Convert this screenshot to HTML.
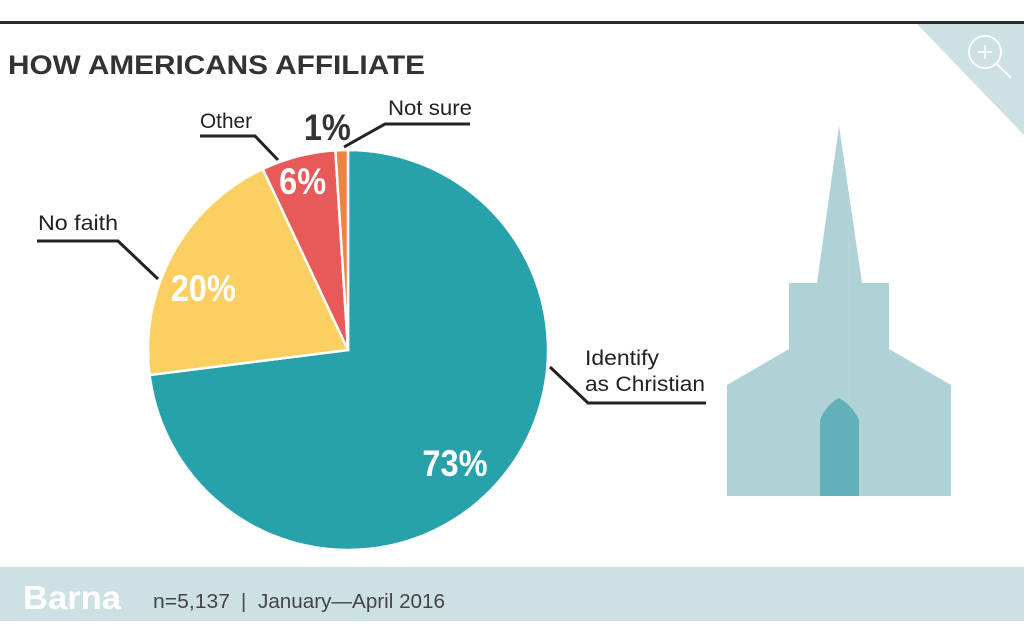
<!DOCTYPE html>
<html><head><meta charset="utf-8"><style>
body{margin:0;width:1024px;height:628px;background:#fff;overflow:hidden;font-family:"Liberation Sans",sans-serif}
</style></head><body>
<svg width="1024" height="628" viewBox="0 0 1024 628" xmlns="http://www.w3.org/2000/svg" font-family="Liberation Sans, sans-serif">
<rect x="0" y="21" width="1024" height="3" fill="#2b2b2b"/>
<polygon points="917,24 1024,24 1024,135" fill="#cde0e4"/>
<circle cx="985" cy="52" r="16" fill="none" stroke="#fff" stroke-width="2"/>
<line x1="997" y1="64" x2="1011" y2="78" stroke="#fff" stroke-width="2"/>
<line x1="978" y1="52" x2="992" y2="52" stroke="#fff" stroke-width="1.5"/>
<line x1="985" y1="45" x2="985" y2="59" stroke="#fff" stroke-width="1.5"/>
<text x="8" y="74" font-size="27" font-weight="bold" fill="#333" textLength="417" lengthAdjust="spacingAndGlyphs">HOW AMERICANS AFFILIATE</text>
<g stroke="#fff" stroke-width="2.5">
<path d="M348,350 L348,150 A200,200 0 1,1 149.6,375 Z" fill="#27a2aa"/>
<path d="M348,350 L149.6,375 A200,200 0 0,1 262.8,169 Z" fill="#fbcf62"/>
<path d="M348,350 L262.8,169 A200,200 0 0,1 335.4,150.4 Z" fill="#e85a5a"/>
<path d="M348,350 L335.4,150.4 A200,200 0 0,1 348,150 Z" fill="#ee8440"/>
</g>
<g fill="#fff" font-weight="bold" font-size="37" text-anchor="middle" transform="scale(0.88,1)">
<text x="517" y="476">73%</text>
<text x="231" y="301">20%</text>
<text x="344" y="194">6%</text>
</g>
<text x="372" y="140" transform="scale(0.88,1)" font-weight="bold" font-size="37" fill="#333" text-anchor="middle">1%</text>
<g stroke="#222" stroke-width="3" fill="none">
<polyline points="37,241 118,241 158,279"/>
<polyline points="200,136 255,136 278,160"/>
<polyline points="470,124 385,124 344,147"/>
<polyline points="550,367 588,403 706,403"/>
</g>
<g font-size="21" fill="#222">
<text x="38" y="230" textLength="80" lengthAdjust="spacingAndGlyphs">No faith</text>
<text x="200" y="128" textLength="52" lengthAdjust="spacingAndGlyphs">Other</text>
<text x="388" y="115" textLength="84" lengthAdjust="spacingAndGlyphs">Not sure</text>
<text x="585" y="365" textLength="74" lengthAdjust="spacingAndGlyphs">Identify</text>
<text x="585" y="391" textLength="120" lengthAdjust="spacingAndGlyphs">as Christian</text>
</g>
<g fill="#afd2d7">
<polygon points="839,126 862,283 889,283 889,349 951,385 951,496 727,496 727,385 789,349 789,283 817,283"/>
</g>
<line x1="849" y1="200" x2="849" y2="496" stroke="#b8d6da" stroke-width="1"/>
<path d="M820,496 L820,420 Q826,405 839,398 Q852,405 859,420 L859,496 Z" fill="#63b1b8"/>
<rect x="0" y="567" width="1024" height="54" fill="#cde0e4"/>
<text x="23" y="609" font-size="33" font-weight="bold" fill="#fff" textLength="98" lengthAdjust="spacingAndGlyphs">Barna</text>
<text x="153" y="608" font-size="20" fill="#444" textLength="77" lengthAdjust="spacingAndGlyphs">n=5,137</text>
<text x="241" y="608" font-size="20" fill="#444">|</text>
<text x="258" y="608" font-size="20" fill="#444" textLength="187" lengthAdjust="spacingAndGlyphs">January—April 2016</text>
</svg>
</body></html>
